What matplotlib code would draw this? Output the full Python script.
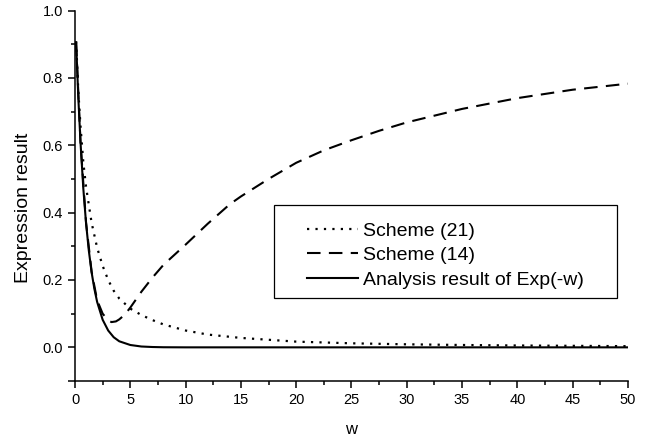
import matplotlib
matplotlib.use("Agg")
import matplotlib.pyplot as plt
from matplotlib.patches import Rectangle
from matplotlib.ticker import MultipleLocator

plt.rcParams["font.family"] = ["Liberation Sans", "DejaVu Sans"]

# values
w_exact = [0.1, 0.3, 0.5, 0.75, 1, 1.25, 1.5, 1.75, 2, 2.5, 3, 3.5, 4, 5, 6, 7, 8, 10, 15, 20, 30, 40, 50]
exact = [0.905, 0.741, 0.607, 0.472, 0.368, 0.287, 0.223, 0.174, 0.135, 0.082, 0.05, 0.03,
         0.018, 0.007, 0.0025, 0.001, 0.0003, 0, 0, 0, 0, 0, 0]

w_21 = [0.1, 0.3, 0.5, 0.75, 1, 1.5, 2, 2.5, 3, 3.5, 4, 5, 6, 7, 8, 10, 12, 15, 20, 25, 30, 35, 40, 45, 50]
scheme21 = [0.909, 0.76, 0.656, 0.55, 0.476, 0.37, 0.296, 0.242, 0.2, 0.168, 0.145, 0.115, 0.096,
            0.081, 0.068, 0.05, 0.038, 0.028, 0.017, 0.012, 0.009, 0.007, 0.0055, 0.0045, 0.0035]

w_14 = [0.1, 0.5, 1, 1.5, 2, 2.5, 3, 3.3, 3.7, 4, 4.5, 5, 6, 7, 8, 9, 10, 12, 14, 15, 17.5,
        20, 22.5, 25, 27.5, 30, 35, 40, 45, 50]
scheme14 = [0.905, 0.607, 0.37, 0.225, 0.14, 0.1, 0.08, 0.075, 0.077, 0.083, 0.097, 0.118, 0.165,
            0.207, 0.245, 0.275, 0.305, 0.367, 0.425, 0.448, 0.5, 0.548, 0.585, 0.615, 0.643,
            0.668, 0.708, 0.74, 0.765, 0.783]

fig = plt.figure(figsize=(6.5, 4.41), dpi=100)
ax = fig.add_axes([0.1154, 0.136, 0.8506, 0.840])

ax.plot(w_21, scheme21, color="black", lw=1.6, linestyle=(0, (1, 2.8)), label="Scheme (21)")
ax.plot(w_14, scheme14, color="black", lw=1.5, linestyle=(0, (6.5, 4)), label="Scheme (14)")
ax.plot(w_exact, exact, color="black", lw=1.5, label="Analysis result of Exp(-w)")

ax.set_xlim(0, 50)
ax.set_ylim(-0.1, 1.0)
ax.xaxis.set_major_locator(MultipleLocator(5))
ax.xaxis.set_minor_locator(MultipleLocator(2.5))
ax.set_yticks([-0.1, 0.0, 0.2, 0.4, 0.6, 0.8, 1.0])
ax.set_yticklabels(["", "0.0", "0.2", "0.4", "0.6", "0.8", "1.0"])
ax.yaxis.set_minor_locator(MultipleLocator(0.1))
ax.tick_params(which="both", direction="out", labelsize=10.5, width=1.1)
ax.tick_params(which="major", length=5)
ax.tick_params(which="minor", length=3)
for s in ["top", "right"]:
    ax.spines[s].set_visible(False)
for s in ["left", "bottom"]:
    ax.spines[s].set_linewidth(1.1)

ax.set_xlabel("w", fontsize=12, labelpad=11)
ax.set_ylabel("Expression result", fontsize=14)
ax.yaxis.set_label_coords(-0.078, 0.468)

# legend box
ax.add_patch(Rectangle((274 / 650, 1 - 298 / 441), 343 / 650, 93 / 441,
                       transform=fig.transFigure, facecolor="white",
                       edgecolor="black", lw=0.9, zorder=3, clip_on=False))
leg = ax.legend(loc="upper left", bbox_to_anchor=(307 / 650, 1 - 222 / 441),
                bbox_transform=fig.transFigure, frameon=False, fontsize=14,
                handlelength=2.6, handletextpad=0.3, labelspacing=0.36,
                borderaxespad=0, borderpad=0)
leg.set_zorder(5)

fig.savefig("out.png", dpi=100)
